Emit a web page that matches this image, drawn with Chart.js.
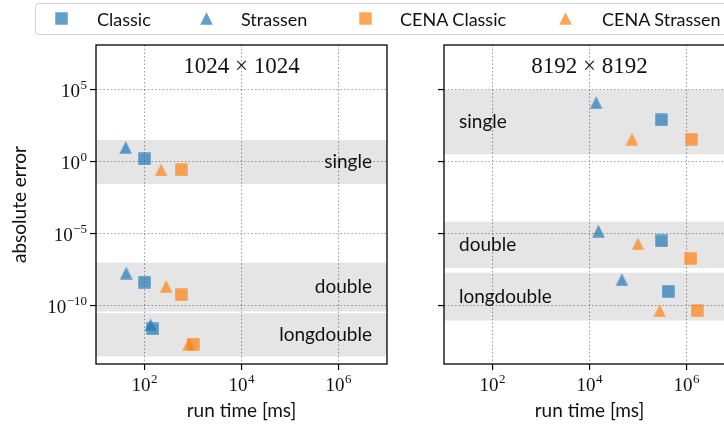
<!DOCTYPE html>
<html><head><meta charset="utf-8">
<script src="https://cdn.jsdelivr.net/npm/chart.js@4.4.0/dist/chart.umd.min.js"></script>
<style>
html,body{margin:0;padding:0;background:#fff;overflow:hidden;width:724px;height:426px;}
#wrap{position:relative;width:724px;height:426px;overflow:hidden;}
canvas.ch{position:absolute;top:0;}
#c1{left:0;}
#c2{left:348px;}
#legend{position:absolute;left:35px;top:3px;width:720px;height:30px;border:1px solid #d3d3d3;border-radius:4px;font-family:Lato,sans-serif;font-size:18px;color:#111;background:#fff;z-index:5;}
.it{position:absolute;top:0;height:30px;line-height:30px;white-space:nowrap;}
.mk{position:absolute;top:8px;}
</style></head>
<body>
<div id="wrap">
<canvas id="c1" class="ch" width="400" height="426"></canvas>
<canvas id="c2" class="ch" width="400" height="426"></canvas>
<div id="legend"></div>
</div>
<script>
// ---- data ----
const panels = ['1024 \u00d7 1024', '8192 \u00d7 8192'];
const methods = ['Classic', 'Strassen', 'CENA Classic', 'CENA Strassen'];
const precisions = ['single', 'double', 'longdouble'];
const xTicks = [1e2, 1e4, 1e6];
const yTicks = [1e5, 1e0, 1e-5, 1e-10];

// 1024 x 1024: run time [ms] and absolute error for (single, double, longdouble)
const classicTime1024 = [100, 100, 148];
const classicErr1024 = [1.6, 4.5e-9, 2.5e-12];
const strassenTime1024 = [41, 42, 133];
const strassenErr1024 = [10.2, 1.9e-8, 4.8e-12];
const cenaClassicTime1024 = [569, 569, 1005];
const cenaClassicErr1024 = [0.28, 5.8e-10, 2.2e-13];
const cenaStrassenTime1024 = [220, 279, 817];
const cenaStrassenErr1024 = [0.28, 2.2e-9, 2.2e-13];

// 8192 x 8192
const classicTime8192 = [3.04e5, 3.04e5, 4.17e5];
const classicErr8192 = [832, 3.2e-6, 1.0e-9];
const strassenTime8192 = [1.37e4, 1.53e4, 4.66e4];
const strassenErr8192 = [1.32e4, 1.55e-5, 6.5e-9];
const cenaClassicTime8192 = [1.27e6, 1.23e6, 1.66e6];
const cenaClassicErr8192 = [38, 1.95e-7, 4.5e-11];
const cenaStrassenTime8192 = [7.5e4, 1.0e5, 2.8e5];
const cenaStrassenErr8192 = [38, 2.0e-6, 4.5e-11];

// precision bands (lower / upper error bound)
const bandLow1024 = [2.95e-2, 4.0e-11, 3.0e-14];
const bandHigh1024 = [3.39e1, 1.02e-7, 3.1e-11];
const bandLow8192 = [3.4, 4.2e-8, 9.5e-12];
const bandHigh8192 = [1.0e5, 7.1e-5, 2.0e-8];

// ---- styling ----
const BLUE = 'rgba(31,119,180,0.7)';
const ORANGE = 'rgba(255,127,14,0.7)';
const shapes = ['sq', 'tri', 'sq', 'tri'];
const colors = [BLUE, BLUE, ORANGE, ORANGE];
const SERIF = '"Liberation Serif", "DejaVu Serif", serif';
const SANS = 'Lato, "DejaVu Sans", sans-serif';

function makeMarker(shape, color) {
  const c = document.createElement('canvas');
  c.width = 13; c.height = 13;
  const g = c.getContext('2d');
  g.fillStyle = color;
  if (shape === 'sq') {
    g.fillRect(0.25, 0.25, 12.5, 12.5);
  } else {
    g.beginPath();
    g.moveTo(6.5, 0.25);
    g.lineTo(12.75, 12.75);
    g.lineTo(0.25, 12.75);
    g.closePath();
    g.fill();
  }
  return c;
}
const markers = shapes.map((s, i) => makeMarker(s, colors[i]));

// legend
const legendPos = [[55, 97], [200, 241], [359, 400], [559, 602]];
const legend = document.getElementById('legend');
methods.forEach((m, i) => {
  const mk = makeMarker(shapes[i], colors[i]);
  mk.className = 'mk';
  mk.style.left = (legendPos[i][0] - 36) + 'px';
  legend.appendChild(mk);
  const t = document.createElement('span');
  t.className = 'it';
  t.style.left = (legendPos[i][1] - 36) + 'px';
  t.textContent = m;
  legend.appendChild(t);
});

function drawPow(ctx, exp, x, y, align) {
  const base = '10';
  const e = String(exp).replace('-', '\u2212');
  ctx.font = '19px ' + SERIF;
  const wb = ctx.measureText(base).width;
  ctx.font = '13px ' + SERIF;
  const we = ctx.measureText(e).width;
  const w = wb + we + 0.5;
  let x0 = align === 'right' ? x - w : x - w / 2;
  ctx.textAlign = 'left';
  ctx.textBaseline = 'alphabetic';
  ctx.font = '19px ' + SERIF;
  ctx.fillText(base, x0, y);
  ctx.font = '13px ' + SERIF;
  ctx.fillText(e, x0 + wb + 0.5, y - 8);
}

function buildChart(id, title, times, errs, bandLo, bandHi, isLeft) {
  const datasets = methods.map((m, i) => ({
    label: m,
    data: times[i].map((t, k) => ({x: t, y: errs[i][k]})),
    pointStyle: markers[i],
    pointRadius: 7,
    showLine: false
  }));
  const decor = {
    id: 'decor' + id,
    beforeDraw(chart) {
      const {ctx, chartArea: a, scales: {y}} = chart;
      ctx.save();
      ctx.fillStyle = '#e5e5e5';
      for (let i = 0; i < bandLo.length; i++) {
        const yt = y.getPixelForValue(bandHi[i]);
        const yb = y.getPixelForValue(bandLo[i]);
        ctx.fillRect(a.left, yt, a.right - a.left, yb - yt);
      }
      ctx.restore();
    },
    beforeDatasetsDraw(chart) {
      const {ctx, chartArea: a, scales: {y}} = chart;
      ctx.save();
      ctx.fillStyle = '#111';
      ctx.font = '19px ' + SANS;
      ctx.textBaseline = 'middle';
      for (let i = 0; i < precisions.length; i++) {
        const yt = y.getPixelForValue(bandHi[i]);
        const yb = y.getPixelForValue(bandLo[i]);
        const ym = (yt + yb) / 2;
        if (isLeft) { ctx.textAlign = 'right'; ctx.fillText(precisions[i], a.right - 15, ym); }
        else { ctx.textAlign = 'left'; ctx.fillText(precisions[i], a.left + 15, ym); }
      }
      ctx.restore();
    },
    afterDraw(chart) {
      const {ctx, chartArea: a, scales: {x, y}} = chart;
      ctx.save();
      ctx.strokeStyle = '#000';
      ctx.lineWidth = 1.3;
      ctx.strokeRect(a.left, a.top, a.right - a.left, a.bottom - a.top);
      ctx.fillStyle = '#111';
      // x tick labels
      xTicks.forEach(v => drawPow(ctx, Math.round(Math.log10(v)), x.getPixelForValue(v), 391, 'center'));
      if (isLeft) {
        yTicks.forEach(v => drawPow(ctx, Math.round(Math.log10(v)), a.left - 9, y.getPixelForValue(v) + 7, 'right'));
        ctx.save();
        ctx.translate(20, (a.top + a.bottom) / 2);
        ctx.rotate(-Math.PI / 2);
        ctx.font = '19px ' + SANS;
        ctx.textAlign = 'center';
        ctx.textBaseline = 'middle';
        ctx.fillText('absolute error', 0, 0);
        ctx.restore();
      }
      ctx.font = '19px ' + SANS;
      ctx.textAlign = 'center';
      ctx.textBaseline = 'middle';
      ctx.fillText('run time [ms]', (a.left + a.right) / 2, 411);
      ctx.font = '23px ' + SERIF;
      ctx.textBaseline = 'alphabetic';
      ctx.fillText(title, (a.left + a.right) / 2, 73);
      ctx.restore();
    }
  };
  const gridCommon = {
    color: 'rgba(0,0,0,0.38)',
    lineWidth: 1.1,
    drawTicks: true,
    tickLength: 6,
    tickColor: '#000',
    tickWidth: 1.2,
    tickBorderDash: []
  };
  return new Chart(document.getElementById(id), {
    type: 'scatter',
    data: {datasets},
    options: {
      responsive: false,
      animation: false,
      devicePixelRatio: 1,
      layout: {padding: {top: 45, right: 13, left: 0, bottom: 0}},
      plugins: {legend: {display: false}, tooltip: {enabled: false}},
      scales: {
        x: {
          type: 'logarithmic',
          min: 10, max: 1e7,
          afterBuildTicks: ax => { ax.ticks = xTicks.map(v => ({value: v})); },
          afterFit: ax => { ax.height = 62; },
          ticks: {display: false},
          grid: gridCommon,
          border: {display: false, dash: [1.5, 2.2]}
        },
        y: {
          type: 'logarithmic',
          min: 9.33e-15, max: 1.334e8,
          afterBuildTicks: ax => { ax.ticks = yTicks.map(v => ({value: v})); },
          afterFit: ax => { ax.width = 96; },
          ticks: {display: false},
          grid: gridCommon,
          border: {display: false, dash: [1.5, 2.2]}
        }
      }
    },
    plugins: [decor]
  });
}

buildChart('c1', panels[0],
  [classicTime1024, strassenTime1024, cenaClassicTime1024, cenaStrassenTime1024],
  [classicErr1024, strassenErr1024, cenaClassicErr1024, cenaStrassenErr1024],
  bandLow1024, bandHigh1024, true);
buildChart('c2', panels[1],
  [classicTime8192, strassenTime8192, cenaClassicTime8192, cenaStrassenTime8192],
  [classicErr8192, strassenErr8192, cenaClassicErr8192, cenaStrassenErr8192],
  bandLow8192, bandHigh8192, false);
</script>
</body></html>
